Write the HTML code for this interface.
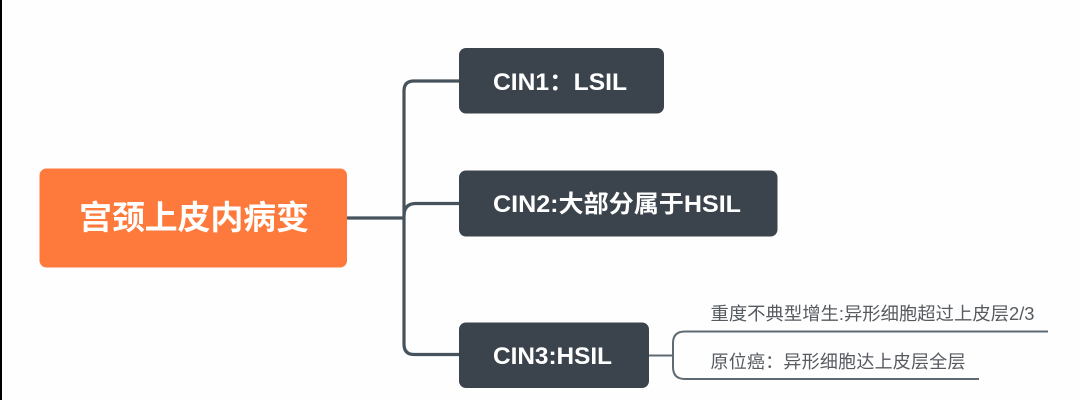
<!DOCTYPE html>
<html>
<head>
<meta charset="utf-8">
<style>
html,body{margin:0;padding:0;background:#fff;width:1080px;height:400px;overflow:hidden}
svg{display:block}
text{font-family:"Liberation Sans","Noto Sans CJK SC",sans-serif}
.b{font-weight:700;fill:#fff}
.s{fill:#555b60;font-size:18px}
</style>
</head>
<body>
<svg width="1080" height="400" viewBox="0 0 1080 400" xmlns="http://www.w3.org/2000/svg">
<rect x="0" y="0" width="1080" height="400" fill="#fefefe"/>
<rect x="0" y="0" width="2" height="400" fill="#000"/>

<g fill="none" stroke="#47535c" stroke-width="3.2">
<path d="M347 218H404"/>
<path d="M460 81H414Q404 81 404 91V344Q404 354.500 414 354.500H460"/>
<path d="M460 203.500H416Q404 203.500 404 216"/>
</g>
<g fill="none" stroke="#5e6971" stroke-width="2">
<path d="M649 355.500H673"/>
<path d="M1048 331.500H685Q673 331.500 673 343V367Q673 379 685 379H979"/>
</g>

<rect x="39.500" y="168.500" width="307.500" height="99" rx="7" fill="#fe7a3c"/>
<rect x="459" y="48" width="205" height="65.500" rx="7" fill="#3b444c"/>
<rect x="459" y="170.500" width="318.500" height="66" rx="7" fill="#3b444c"/>
<rect x="459" y="322.500" width="190" height="65.500" rx="7" fill="#3b444c"/>

<text class="b" x="79" y="229" font-size="33" textLength="230" lengthAdjust="spacing">宫颈上皮内病变</text>
<text class="b" x="493" y="90" font-size="24" textLength="134" lengthAdjust="spacingAndGlyphs">CIN1：LSIL</text>
<text class="b" x="493" y="212" font-size="24" textLength="248" lengthAdjust="spacingAndGlyphs">CIN2:大部分属于HSIL</text>
<text class="b" x="493" y="364" font-size="24" textLength="119" lengthAdjust="spacingAndGlyphs">CIN3:HSIL</text>

<text class="s" x="710.500" y="320" textLength="324" lengthAdjust="spacingAndGlyphs">重度不典型增生:异形细胞超过上皮层2/3</text>
<text class="s" x="710.500" y="368" textLength="255" lengthAdjust="spacing">原位癌：异形细胞达上皮层全层</text>
</svg>
</body>
</html>
